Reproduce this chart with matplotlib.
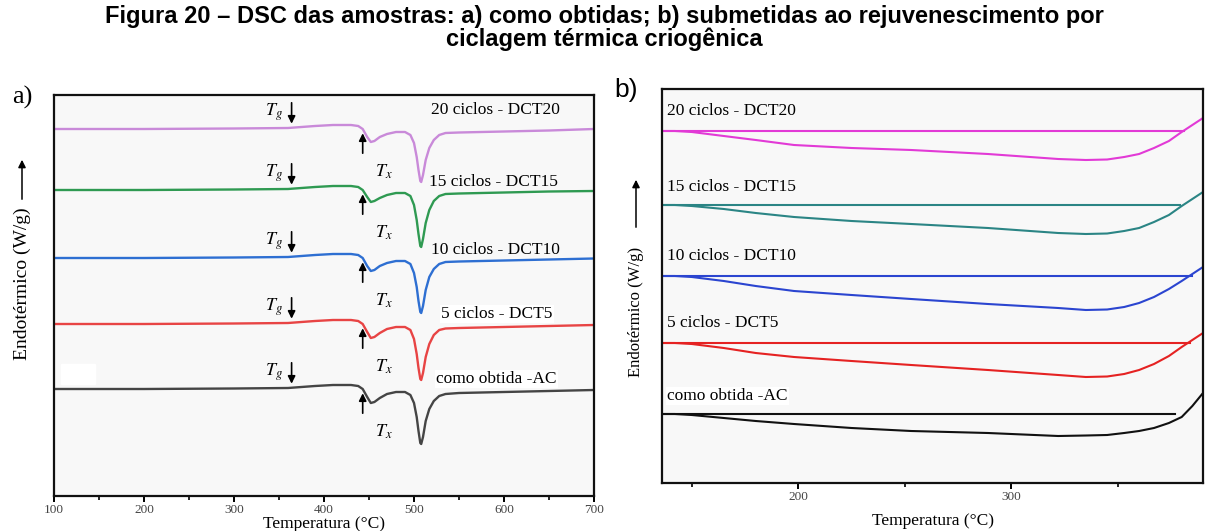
import numpy as np
import matplotlib.pyplot as plt
from matplotlib.patches import Rectangle

plt.rcParams['mathtext.fontset'] = 'stix'
serif = 'Liberation Serif'

# --- a) DSC das amostras como obtidas / ciclos (sinal relativo, u.a.) ---
temp_a = [100, 200, 300, 360, 390, 410, 430, 438, 443, 448, 452, 456, 462, 470, 480, 490,
          496, 500, 503, 505, 507, 508, 510, 513, 517, 522, 528, 535, 550, 600, 650, 700]
dct20_a = [0, 0, 0.05, 0.1, 0.3, 0.4, 0.4, 0.3, 0.0, -0.8, -1.3, -1.2, -0.8, -0.5, -0.3, -0.3,
           -0.6, -1.4, -2.8, -4.1, -5.2, -5.3, -4.6, -3.1, -1.9, -1.1, -0.6, -0.4, -0.35, -0.25, -0.15, 0.0]
dct15_a = [0, 0, 0.05, 0.1, 0.3, 0.4, 0.4, 0.3, 0.0, -0.7, -1.2, -1.1, -0.8, -0.5, -0.3, -0.3,
           -0.6, -1.5, -3.0, -4.4, -5.6, -5.7, -4.9, -3.3, -2.0, -1.1, -0.6, -0.4, -0.35, -0.25, -0.15, -0.1]
dct10_a = [0, 0, 0.05, 0.1, 0.3, 0.4, 0.4, 0.3, 0.0, -0.8, -1.3, -1.2, -0.8, -0.5, -0.3, -0.3,
           -0.6, -1.5, -2.9, -4.3, -5.4, -5.5, -4.8, -3.2, -1.9, -1.1, -0.6, -0.4, -0.35, -0.25, -0.15, -0.05]
dct5_a = [0, 0, 0.05, 0.1, 0.3, 0.4, 0.4, 0.3, 0.0, -0.8, -1.4, -1.3, -0.9, -0.5, -0.3, -0.3,
          -0.6, -1.5, -3.0, -4.4, -5.5, -5.6, -4.9, -3.3, -2.0, -1.1, -0.6, -0.45, -0.4, -0.3, -0.2, -0.1]
ac_a = [0, 0, 0.05, 0.1, 0.3, 0.4, 0.4, 0.3, 0.0, -0.8, -1.4, -1.3, -0.9, -0.5, -0.3, -0.3,
        -0.6, -1.4, -2.8, -4.2, -5.4, -5.5, -4.8, -3.2, -2.0, -1.2, -0.7, -0.5, -0.4, -0.3, -0.2, -0.1]

# --- b) rejuvenescimento: linha de referência + curva ---
temp_b = [136, 142, 150, 165, 180, 198, 225, 253, 289, 322, 335, 345, 353, 360, 367, 374, 380, 385, 390]
dct20_b = [0, 0, -0.1, -0.5, -0.9, -1.4, -1.7, -1.9, -2.3, -2.8, -2.9, -2.85, -2.6, -2.3, -1.7, -1.0, -0.1, 0.6, 1.3]
dct15_b = [0, 0, -0.1, -0.4, -0.8, -1.2, -1.6, -1.9, -2.3, -2.8, -2.9, -2.85, -2.6, -2.3, -1.7, -1.0, -0.1, 0.6, 1.3]
dct10_b = [0, 0, -0.1, -0.5, -1.0, -1.5, -1.9, -2.3, -2.8, -3.2, -3.4, -3.35, -3.1, -2.7, -2.1, -1.3, -0.5, 0.2, 0.9]
dct5_b = [0, 0, -0.1, -0.5, -1.0, -1.4, -1.8, -2.2, -2.7, -3.2, -3.4, -3.35, -3.1, -2.7, -2.1, -1.3, -0.4, 0.3, 1.0]
ac_b = [0, 0, -0.1, -0.4, -0.7, -1.0, -1.4, -1.7, -1.9, -2.2, -2.15, -2.1, -1.9, -1.7, -1.4, -0.9, -0.3, 0.8, 2.1]
ref_end_b = [381, 379, 385, 384, 377]

labels = ['20 ciclos - DCT20', '15 ciclos - DCT15', '10 ciclos - DCT10', '5 ciclos - DCT5', 'como obtida -AC']
cores_a = ['#c98ad9', '#2f9a52', '#2e6fd2', '#e84444', '#454545']
cores_b = ['#e23ad6', '#2b8585', '#2b45d0', '#e52222', '#111111']

# deslocamento vertical de cada curva (empilhamento)
base_a = [36.7, 30.6, 23.8, 17.2, 10.7]
base_b = [35.2, 27.8, 20.7, 14.0, 6.9]

fig = plt.figure(figsize=(12.09, 5.31), dpi=100)
fig.patch.set_facecolor('white')

fig.text(0.5, 1 - 17 / 531, 'Figura 20 – DSC das amostras: a) como obtidas; b) submetidas ao rejuvenescimento por',
         ha='center', va='center', fontsize=17, fontweight='bold', family='Liberation Sans')
fig.text(0.5, 1 - 39 / 531, 'ciclagem térmica criogênica',
         ha='center', va='center', fontsize=17, fontweight='bold', family='Liberation Sans')

W, H = 1209, 531
ax1 = fig.add_axes([54 / W, 1 - 496 / H, 540 / W, 401 / H])
ax2 = fig.add_axes([662 / W, 1 - 483 / H, 541 / W, 394 / H])

for ax in (ax1, ax2):
    ax.set_facecolor('#f8f8f8')
    for s in ax.spines.values():
        s.set_linewidth(1.6)
        s.set_color('#111111')
    ax.set_yticks([])
    ax.tick_params(axis='x', direction='out', length=4, width=1.4, labelsize=9.5,
                   labelcolor='#444444', pad=2)
    ax.tick_params(axis='x', which='minor', direction='out', length=3, width=1.2)

# painel a)
curvas_a = [dct20_a, dct15_a, dct10_a, dct5_a, ac_a]
for y, c, b in zip(curvas_a, cores_a, base_a):
    ax1.plot(temp_a, np.array(y) + b, color=c, lw=1.7)

ax1.add_patch(Rectangle((108, 11.2), 38, 2.0, color='white', zorder=1))

txt_x_a = [519, 517, 519, 530, 525]
txt_dy_a = [1.9, 0.8, 0.8, 1.0, 1.0]
for lab, b, tx, dy in zip(labels, base_a, txt_x_a, txt_dy_a):
    ax1.text(tx, b + dy, lab, fontsize=12.5, family=serif, va='center', ha='left',
             bbox=dict(fc='white', ec='none', pad=1) if lab in labels[3:] else None)

for b in base_a:
    # T_g
    ax1.annotate('', xy=(364, b + 0.25), xytext=(364, b + 2.9),
                 arrowprops=dict(arrowstyle='-|>', color='black', lw=1.2, mutation_scale=11))
    ax1.text(344, b + 1.7, '$T_g$', fontsize=13, ha='center', va='center')
    # T_x
    ax1.annotate('', xy=(443, b - 0.15), xytext=(443, b - 2.7),
                 arrowprops=dict(arrowstyle='-|>', color='black', lw=1.2, mutation_scale=11))
    ax1.text(467, b - 4.3, '$T_x$', fontsize=13, ha='center', va='center')

ax1.set_xlim(100, 700)
ax1.set_ylim(0, 40.1)
ax1.set_xticks(range(100, 701, 100))
ax1.set_xticks(range(150, 700, 100), minor=True)
ax1.set_xlabel('Temperatura (°C)', fontsize=12.5, family=serif, labelpad=0)

# painel b)
curvas_b = [dct20_b, dct15_b, dct10_b, dct5_b, ac_b]
txt_dy_b = [2.0, 1.8, 2.0, 2.0, 1.8]
for y, c, b, fim, lab, dy in zip(curvas_b, cores_b, base_b, ref_end_b, labels, txt_dy_b):
    ax2.plot([temp_b[0], fim], [b, b], color=c, lw=1.5)
    ax2.plot(temp_b, np.array(y) + b, color=c, lw=1.5)
    ax2.text(138.5, b + dy, lab, fontsize=12.5, family=serif, va='center', ha='left',
             bbox=dict(fc='white', ec='none', pad=1) if lab == labels[-1] else None)

ax2.set_xlim(136, 390)
ax2.set_ylim(0, 39.4)
ax2.set_xticks([200, 300])
ax2.set_xticks([150, 250, 350], minor=True)
ax2.set_xlabel('Temperatura (°C)', fontsize=12.5, family=serif, labelpad=7)

for ax in (ax1, ax2):
    for t in ax.get_xticklabels():
        t.set_family(serif)

# rótulos dos painéis e eixo y
fig.text(22 / W, 1 - 97 / H, 'a)', fontsize=19, family=serif, ha='center', va='center')
fig.text(626 / W, 1 - 90 / H, 'b)', fontsize=19, family='Liberation Sans', ha='center', va='center')

for xc, y0, y1, ymid, fs in [(22, 202, 157, 284, 14), (636, 230, 177, 312, 12)]:
    fig.text(xc / W, 1 - ymid / H, 'Endotérmico (W/g)', rotation=90, fontsize=fs,
             family=serif, ha='center', va='center')
    fig.add_artist(plt.Annotation('', xy=(xc / W, 1 - y1 / H), xytext=(xc / W, 1 - y0 / H),
                                  xycoords='figure fraction', textcoords='figure fraction',
                                  arrowprops=dict(arrowstyle='-|>', color='black', lw=1.1,
                                                  mutation_scale=11)))

fig.savefig('out.png', dpi=100)
